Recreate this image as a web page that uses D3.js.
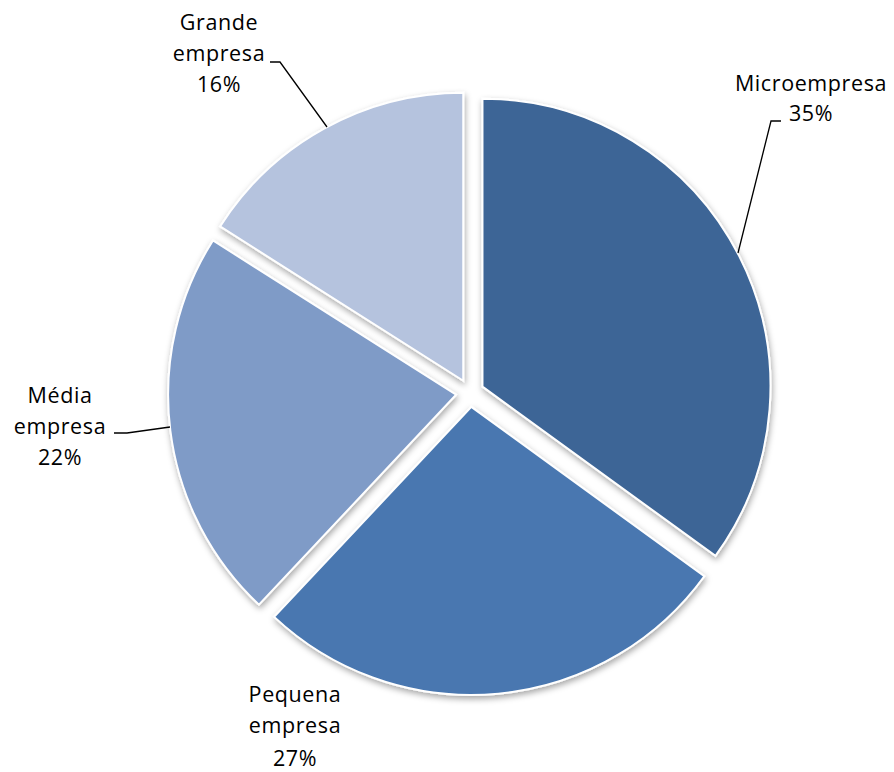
<!DOCTYPE html>
<html>
<head>
<meta charset="utf-8">
<script src="https://cdn.jsdelivr.net/npm/d3@7"></script>
<style>
  body { margin: 0; background: #fff; }
  text { font-family: "Open Sans", Lato, sans-serif; font-size: 21.5px; fill: #000; letter-spacing: 0.6px; }
</style>
</head>
<body>
<div id="chart"></div>
<script>
// Porte das empresas
const categories = ["Microempresa", "Pequena empresa", "Média empresa", "Grande empresa"]
const values = [35, 27, 22, 16]
const colors = ["#3d6596", "#4877b0", "#7f9bc7", "#b5c3de"]

const width = 894, height = 772
const cx = 470, cy = 393, radius = 288, explode = 14

const svg = d3.select("#chart")
    .append("svg")
    .attr("width", width)
    .attr("height", height)

// ombra leve
const defs = svg.append("defs")
defs.append("filter")
    .attr("id", "shadow")
    .attr("x", "-10%").attr("y", "-10%")
    .attr("width", "120%").attr("height", "120%")
    .append("feDropShadow")
    .attr("dx", 1).attr("dy", 3)
    .attr("stdDeviation", 3)
    .attr("flood-color", "#000")
    .attr("flood-opacity", 0.35)

const pie = d3.pie().sort(null).value(d => d)
const arcs = pie(values)
const arc = d3.arc().innerRadius(0).outerRadius(radius)

const g = svg.append("g").attr("transform", `translate(${cx},${cy})`)

g.selectAll("path")
    .data(arcs)
    .join("path")
    .attr("transform", d => {
        const a = (d.startAngle + d.endAngle) / 2
        return `translate(${explode * Math.sin(a)},${-explode * Math.cos(a)})`
    })
    .attr("d", arc)
    .attr("fill", (d, i) => colors[i])
    .attr("stroke", "#fff")
    .attr("stroke-width", 2)
    .attr("filter", "url(#shadow)")

// etiquetas
const labelPos = [
    { lines: ["Microempresa"], x: 811, y: 91, pctY: 121 },
    { lines: ["Pequena", "empresa"], x: 295, y: 702, pctY: 766 },
    { lines: ["Média", "empresa"], x: 60, y: 403, pctY: 465 },
    { lines: ["Grande", "empresa"], x: 219, y: 30, pctY: 92 }
]
const leaders = [
    [[738, 253], [771, 121], [781, 121]],
    null,
    [[170, 427], [127, 433], [114, 433]],
    [[327, 127], [280, 62], [270, 62]]
]

const line = d3.line()
svg.selectAll("path.leader")
    .data(leaders.filter(l => l))
    .join("path")
    .attr("class", "leader")
    .attr("d", line)
    .attr("fill", "none")
    .attr("stroke", "#000")
    .attr("stroke-width", 1.3)

labelPos.forEach((p, i) => {
    const t = svg.append("text").attr("text-anchor", "middle")
    p.lines.forEach((l, j) => {
        t.append("tspan").attr("x", p.x).attr("y", p.y + j * 31).text(l)
    })
    t.append("tspan").attr("x", p.x).attr("y", p.pctY).text(values[i] + "%")
})
</script>
</body>
</html>
